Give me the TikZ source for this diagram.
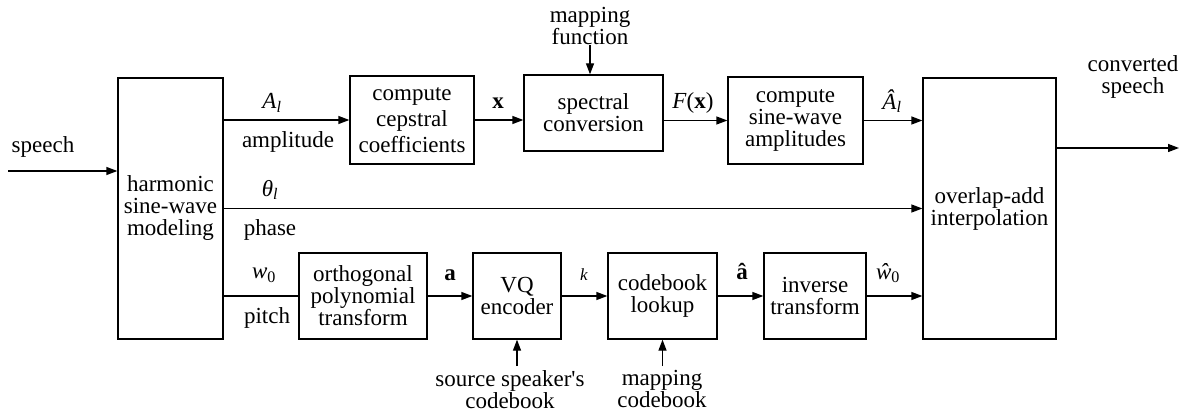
\documentclass[tikz,border=0pt]{standalone}
\usepackage{fontspec}
\setmainfont{Liberation Serif}
\usetikzlibrary{arrows.meta}
\newcommand{\sub}[1]{\textsubscript{#1}}
\newcommand{\squote}{\XeTeXglyph\XeTeXcharglyph"27\relax}
\begin{document}
\begin{tikzpicture}[x=1pt,y=-1pt,
  font=\fontsize{23}{22}\selectfont,
  block/.style={draw,line width=1.3pt,align=center,inner sep=0pt},
  lbl/.style={inner sep=0pt,align=center},
  flow/.style={line width=1.3pt,-{Triangle[length=11pt,width=8pt]}},
  plain/.style={line width=1.3pt}]
\useasboundingbox (0,0) rectangle (1186,414);

% processing blocks
\node[block,minimum width=105pt,minimum height=261pt] (hsw) at (170.5,208.5) {harmonic\\sine-wave\\modeling};
\node[block,minimum width=124pt,minimum height=88pt,font=\fontsize{23}{26}\selectfont] (ccc) at (412,120) {compute\\cepstral\\coefficients};
\node[block,minimum width=139pt,minimum height=76pt] (spc) at (593.5,113) {spectral\\conversion};
\node[block,minimum width=135pt,minimum height=87pt] (csa) at (795.5,120.5) {compute\\sine-wave\\amplitudes};
\node[block,minimum width=133pt,minimum height=261pt] (ola) at (989.5,208.5) {overlap-add\\interpolation};
\node[block,minimum width=128pt,minimum height=86pt] (opt) at (363,296) {orthogonal\\polynomial\\transform};
\node[block,minimum width=88pt,minimum height=86pt] (vq) at (517,296) {VQ\\encoder};
\node[block,minimum width=109pt,minimum height=86pt] (cbl) at (662.5,296) {codebook\\lookup};
\node[block,minimum width=102pt,minimum height=86pt] (inv) at (815,296) {inverse\\transform};

% external inputs and outputs
\node[lbl] (sp) at (43,147) {speech};
\coordinate (spin) at (8,171);
\node[lbl] (cs) at (1133,77) {converted\\speech};
\coordinate (csout) at (1179,148);
\node[lbl] (mf) at (590,26) {mapping\\function};
\node[lbl] (ssc) at (510,390) {source speaker\squote s\\codebook};
\node[lbl] (mcb) at (662,389) {mapping\\codebook};

% connectors
\draw[flow] (spin) -- (spin -| hsw.west);
\draw[flow] (hsw.east |- ccc.west) -- (ccc.west);
\draw[flow] (ccc.east) -- (ccc.east -| spc.west);
\draw[flow] (spc.east |- csa.west) -- (csa.west);
\draw[flow] (csa.east) -- (csa.east -| ola.west);
\draw[flow] (hsw.east) -- (ola.west);
\draw[plain] (hsw.east |- opt.west) -- (opt.west);
\draw[flow] (opt.east) -- (vq.west);
\draw[flow] (vq.east) -- (cbl.west);
\draw[flow] (cbl.east) -- (inv.west);
\draw[flow] (inv.east) -- (inv.east -| ola.west);
\draw[flow] (ola.east |- csout) -- (csout);
\draw[flow] (mf.south) -- (mf.south |- spc.north);
\draw[flow] (vq.south |- 0,366) -- (vq.south);
\draw[flow] (cbl.south |- 0,366) -- (cbl.south);

% signal labels
\node[lbl] (lA) at (272,103) {\textit{A}\sub{\textit{l}}};
\node[lbl] (lamp) at (288,142) {amplitude};
\node[lbl] (lth) at (270,190) {\textit{θ}\sub{\textit{l}}};
\node[lbl] (lph) at (270,230) {phase};
\node[lbl] (lw) at (264,275) {\textit{w}\sub{0}};
\node[lbl] (lpi) at (267,318) {pitch};
\node[lbl] (lx) at (498,103) {\textbf{x}};
\node[lbl] (lF) at (693,103) {\textit{F}(\textbf{x})};
\node[lbl] (lAh) at (892,101) {\textit{Â}\sub{\textit{l}}};
\node[lbl] (la) at (450,275) {\textbf{a}};
\node[lbl,font=\fontsize{17}{17}\selectfont\itshape] (lk) at (584,275) {k};
\node[lbl] (lah) at (742,272) {\textbf{â}};
\node[lbl] (lwh) at (888,273) {\textit{ŵ}\sub{0}};
\end{tikzpicture}
\end{document}
